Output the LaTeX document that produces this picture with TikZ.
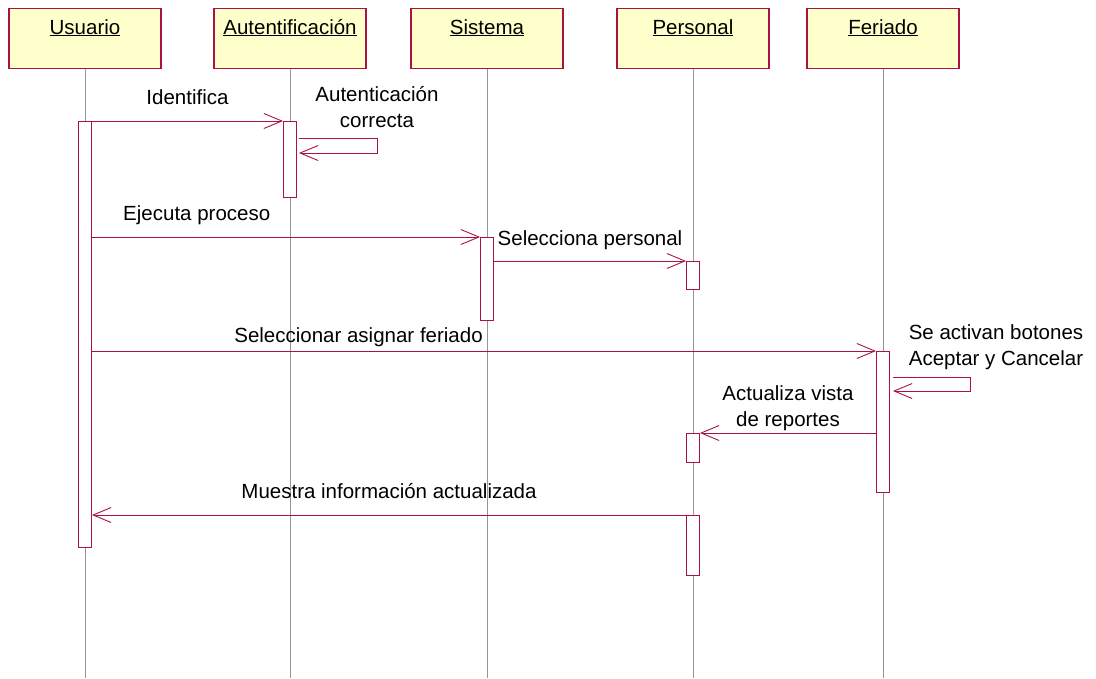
\documentclass[tikz,border=0pt]{standalone}
\usepackage{fontspec}
\setmainfont{Liberation Sans}
\usetikzlibrary{arrows.meta,positioning}

\definecolor{umlred}{RGB}{170,18,66}
\definecolor{umlyellow}{RGB}{255,255,204}
\definecolor{lifegray}{RGB}{150,150,150}

\newcommand{\diagfont}{\fontsize{20.5}{26}\selectfont}

\begin{document}
\begin{tikzpicture}[x=1pt,y=-1pt]
    % --- STILI ---
    \tikzset{
        head_box/.style={draw=umlred, fill=umlyellow, line width=1.2pt, minimum width=152pt, minimum height=60pt, inner sep=0pt, anchor=north},
        head_text/.style={anchor=base, inner sep=0pt, font=\diagfont},
        life_line/.style={draw=lifegray, line width=0.9pt},
        act_box/.style={draw=umlred, fill=white, line width=0.9pt, minimum width=13pt, inner sep=0pt, anchor=north},
        msg/.style={draw=umlred, line width=0.9pt, -{Straight Barb[length=18pt,width=15pt]}},
        msg_text/.style={anchor=base, inner sep=0pt, align=center, font=\diagfont}
    }

    \useasboundingbox (0,0) rectangle (1096,678);

    % ===================================================
    % 1. OGGETTI E LINEE DI VITA
    % ===================================================
    \foreach \n/\x/\t in {U/85/Usuario, A/290/Autentificación, S/487/Sistema, P/693/Personal, F/883/Feriado} {
        \node[head_box] (h\n) at (\x,8) {};
        \node[head_text] (t\n) at (\x,34) {\underline{\t}};
        \coordinate (e\n) at (\x,678);
        \draw[life_line] (h\n.south) -- (e\n);
    }

    % ===================================================
    % 2. ATTIVAZIONI
    % ===================================================
    \node[act_box, minimum height=426pt] (aU) at (85,121) {};
    \node[act_box, minimum height=76pt] (aA) at (290,121) {};
    \node[act_box, minimum height=83pt] (aS) at (487,237) {};
    \node[act_box, minimum height=28pt] (aP1) at (693,261) {};
    \node[act_box, minimum height=141pt] (aF) at (883,351) {};
    \node[act_box, minimum height=29pt] (aP2) at (693,433) {};
    \node[act_box, minimum height=60pt] (aP3) at (693,515) {};

    % ===================================================
    % 3. MESSAGGI
    % ===================================================
    \draw[msg] (aU.north east) -- node[msg_text, yshift=17pt] (mId) {Identifica} (aA.north west);

    % autochiamata Autentificacion
    \draw[msg] ([xshift=2pt,yshift=-17pt]aA.north east) -- ++(78,0) -- ++(0,15) -- ([xshift=2pt,yshift=-32pt]aA.north east);
    \node[msg_text] (mAut) at (377,127) {Autenticación\\correcta};

    \draw[msg] (aU.east |- aS.north) -- node[msg_text, pos=.27, yshift=17pt] (mEj) {Ejecuta proceso} (aS.north west);
    \draw[msg] (aS.east |- aP1.north) -- node[msg_text, yshift=16pt] (mSp) {Selecciona personal} (aP1.north west);
    \draw[msg] (aU.east |- aF.north) -- node[msg_text, pos=.34, yshift=9pt] (mSf) {Seleccionar asignar feriado} (aF.north west);

    % autochiamata Feriado
    \draw[msg] ([xshift=3pt,yshift=-26pt]aF.north east) -- ++(77,0) -- ++(0,14) -- ([xshift=3pt,yshift=-40pt]aF.north east);
    \node[msg_text] (mBot) at (996,365) {Se activan botones\\Aceptar y Cancelar};

    \draw[msg] (aF.west |- aP2.north) -- node[msg_text, yshift=7pt] (mAv) {Actualiza vista\\de reportes} (aP2.north east);
    \draw[msg] (aP3.north west) -- node[msg_text, yshift=17pt] (mMu) {Muestra información actualizada} (aU.east |- aP3.north);

\end{tikzpicture}
\end{document}
